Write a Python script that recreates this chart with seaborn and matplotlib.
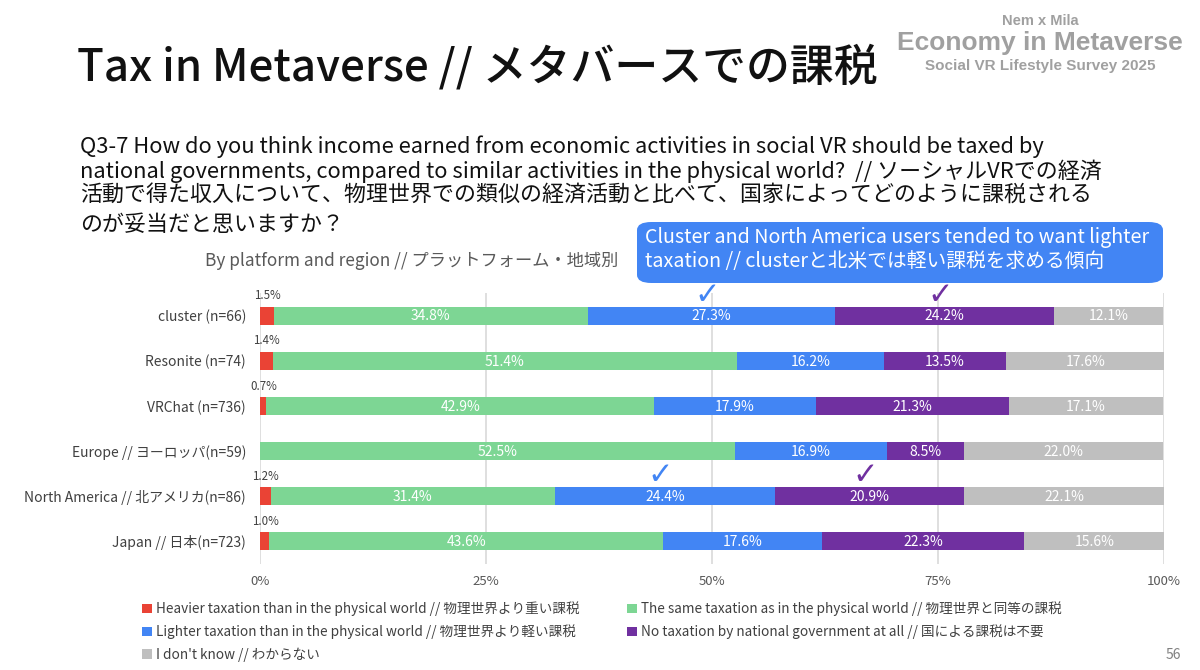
import matplotlib
matplotlib.use("Agg")
import matplotlib.pyplot as plt
import seaborn as sns
import pandas as pd
from matplotlib.patches import FancyBboxPatch, Patch

# ---------------- data ----------------
groups = [
    "cluster (n=66)",
    "Resonite (n=74)",
    "VRChat (n=736)",
    "Europe // ヨーロッパ(n=59)",
    "North America // 北アメリカ(n=86)",
    "Japan // 日本(n=723)",
]
heavier = [1.5, 1.4, 0.7, 0.0, 1.2, 1.0]
same = [34.8, 51.4, 42.9, 52.5, 31.4, 43.6]
lighter = [27.3, 16.2, 17.9, 16.9, 24.4, 17.6]
no_tax = [24.2, 13.5, 21.3, 8.5, 20.9, 22.3]
dont_know = [12.1, 17.6, 17.1, 22.0, 22.1, 15.6]

series_names = [
    "Heavier taxation than in the physical world // 物理世界より重い課税",
    "The same taxation as in the physical world // 物理世界と同等の課税",
    "Lighter taxation than in the physical world // 物理世界より軽い課税",
    "No taxation by national government at all // 国による課税は不要",
    "I don't know // わからない",
]
series_values = [heavier, same, lighter, no_tax, dont_know]
colors = ["#EA4335", "#7DD694", "#4285F4", "#7030A0", "#BFBFBF"]

x_ticks = [0, 25, 50, 75, 100]
x_tick_labels = ["0%", "25%", "50%", "75%", "100%"]

# rows and series that get a check mark
check_rows = ["cluster (n=66)", "North America // 北アメリカ(n=86)"]
check_series = [2, 3]

title = "Tax in Metaverse // メタバースでの課税"
question_lines = [
    "Q3-7 How do you think income earned from economic activities in social VR should be taxed by",
    "national governments, compared to similar activities in the physical world?  // ソーシャルVRでの経済",
    "活動で得た収入について、物理世界での類似の経済活動と比べて、国家によってどのように課税される",
    "のが妥当だと思いますか？",
]
subtitle = "By platform and region // プラットフォーム・地域別"
callout_lines = [
    "Cluster and North America users tended to want lighter",
    "taxation // clusterと北米では軽い課税を求める傾向",
]
logo_lines = ["Nem x Mila", "Economy in Metaverse", "Social VR Lifestyle Survey 2025"]
page_number = "56"

# ---------------- setup ----------------
sns.set_theme(style="white")
plt.rcParams["font.family"] = ["Noto Sans CJK JP", "DejaVu Sans"]

W, H = 1200, 670
fig = plt.figure(figsize=(W / 100, H / 100), dpi=100)
fig.patch.set_facecolor("white")


def fx(px):
    return px / W


def fy(py):
    return 1 - py / H


df = pd.DataFrame({"group": groups})
cols = []
for name, vals in zip(series_names, series_values):
    df[name] = vals
    cols.append(name)
cum = df[cols].cumsum(axis=1)
cum["group"] = groups

ax = fig.add_axes([fx(260), fy(564), fx(1164) - fx(260), fy(293) - fy(564)])
ax.patch.set_alpha(0)

for i in reversed(range(len(cols))):
    sns.barplot(
        data=cum, x=cols[i], y="group", order=groups, color=colors[i],
        orient="h", width=0.4, saturation=1, linewidth=0, errorbar=None, ax=ax,
    )

ax.set_xlim(0, 100)
ax.set_ylim(len(groups) - 0.5, -0.5)
ax.set_xlabel("")
ax.set_ylabel("")
ax.set_xticks(x_ticks)
ax.set_xticklabels(x_tick_labels)
ax.set_axisbelow(True)
ax.xaxis.grid(True, color="#D9D9D9", linewidth=1.2)
ax.yaxis.grid(False)
for s in ax.spines.values():
    s.set_visible(False)
ax.tick_params(axis="y", length=0, pad=10, labelsize=10, labelcolor="#404040")
ax.tick_params(axis="x", length=0, pad=8, labelsize=9.5, labelcolor="#595959")

# value labels
for r, g in enumerate(groups):
    left = 0.0
    for i in range(len(cols)):
        v = series_values[i][r]
        if i == 0:
            if v > 0:
                ax.text(v / 2 + 0.05, r - 0.44, f"{v:.1f}%", ha="center", va="center",
                        fontsize=8.3, color="#404040")
        else:
            ax.text(left + v / 2, r + 0.02, f"{v:.1f}%", ha="center", va="center",
                    fontsize=10, color="white")
            if g in check_rows and i in check_series:
                ax.text(left + v / 2 - 0.5, r - 0.45, "✓", ha="center", va="center",
                        fontsize=22, color=colors[i], family=["DejaVu Sans"],
                        clip_on=False, zorder=5)
        left += v

# ---------------- texts ----------------
fig.text(fx(77), fy(68), title, ha="left", va="center", fontsize=31.6,
         fontweight="medium", color="#111111")
q_y = [147, 171, 195, 225]
for line, yy in zip(question_lines, q_y):
    fig.text(fx(80), fy(yy), line, ha="left", va="center", fontsize=15.8, color="#111111")

fig.text(fx(205), fy(261), subtitle, ha="left", va="center", fontsize=12.4, color="#595959")

box = FancyBboxPatch((fx(637), fy(283)), fx(1163) - fx(637), fy(222) - fy(283),
                     boxstyle="round,pad=0,rounding_size=0.012", transform=fig.transFigure,
                     facecolor="#4285F4", edgecolor="none", zorder=-1)
fig.patches.append(box)
fig.text(fx(645), fy(238), callout_lines[0], ha="left", va="center", fontsize=14.2, color="white")
fig.text(fx(645), fy(262), callout_lines[1], ha="left", va="center", fontsize=14.2, color="white")

logo_font = ["Liberation Sans", "DejaVu Sans"]
fig.text(fx(1040), fy(21), logo_lines[0], ha="center", va="center", fontsize=10.5,
         fontweight="bold", color="#A0A0A0", family=logo_font)
fig.text(fx(1040), fy(43), logo_lines[1], ha="center", va="center", fontsize=19,
         fontweight="bold", color="#A0A0A0", family=logo_font)
fig.text(fx(1040), fy(66), logo_lines[2], ha="center", va="center", fontsize=11,
         fontweight="bold", color="#A0A0A0", family=logo_font)

fig.text(fx(1173), fy(655), page_number, ha="center", va="center", fontsize=10, color="#808080")

# ---------------- legend ----------------
order = [0, 2, 4, 1, 3]
handles = [Patch(facecolor=colors[i], edgecolor="none") for i in order]
labels = [series_names[i] for i in order]
fig.legend(handles, labels, loc="upper left", bbox_to_anchor=(fx(137), fy(596)),
           ncol=2, frameon=False, fontsize=9.8, handlelength=0.7, handleheight=0.7,
           handletextpad=0.3, columnspacing=3.5, labelspacing=0.6, labelcolor="#404040",
           borderaxespad=0)

fig.savefig("out.png", dpi=100, facecolor="white")
